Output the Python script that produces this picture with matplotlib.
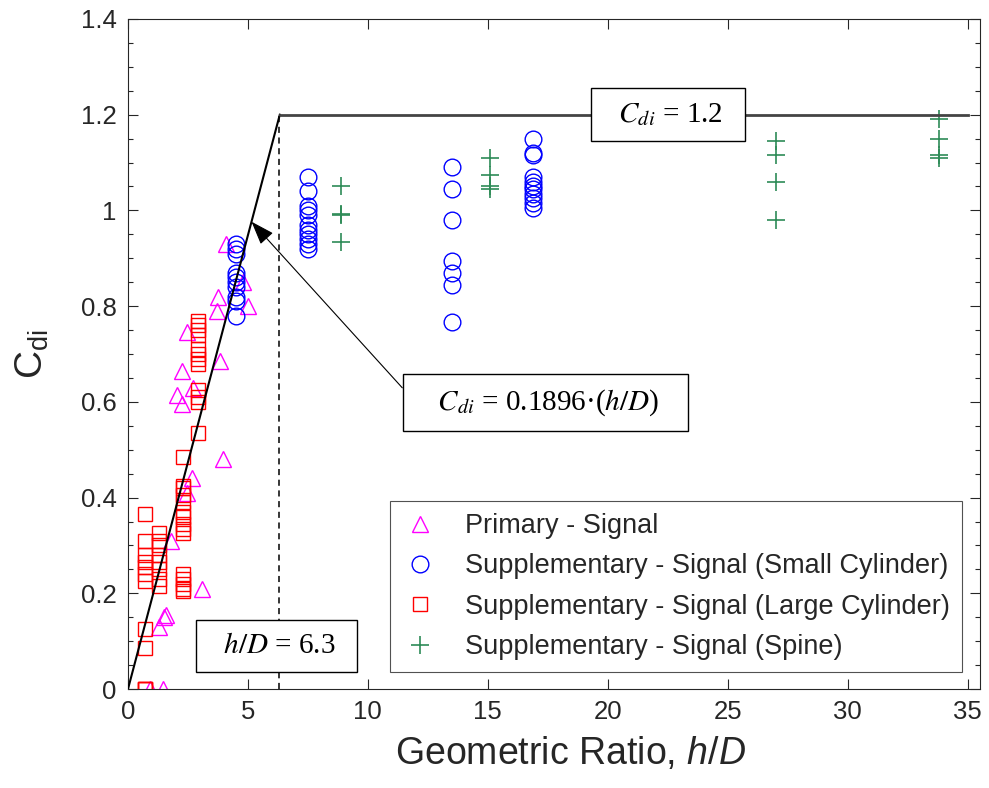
import matplotlib
matplotlib.use("Agg")
import matplotlib.pyplot as plt
import numpy as np
from matplotlib.ticker import MultipleLocator

plt.rcParams['font.family'] = ['Liberation Sans', 'DejaVu Sans']
plt.rcParams['mathtext.fontset'] = 'custom'
plt.rcParams['mathtext.rm'] = 'Liberation Sans'
plt.rcParams['mathtext.it'] = 'Liberation Sans:italic'

# Primary - Signal
prim_x = [4.1, 4.8, 3.75, 5.0, 3.7, 2.45, 3.85, 2.25, 2.7, 2.05, 2.25, 3.95,
          2.65, 2.45, 1.8, 3.1, 1.6, 1.5, 1.3, 1.45, 0.9]
prim_y = [0.93, 0.85, 0.82, 0.80, 0.79, 0.745, 0.685, 0.665, 0.63, 0.615, 0.595,
          0.48, 0.44, 0.41, 0.31, 0.21, 0.155, 0.15, 0.13, 0.0, 0.0]

# Supplementary - Small Cylinder
small_x = [4.5] * 10 + [7.5] * 11 + [13.5] * 7 + [16.9] * 11
small_y = [0.93, 0.92, 0.91, 0.87, 0.86, 0.85, 0.84, 0.82, 0.81, 0.78,
           1.07, 1.04, 1.01, 1.0, 0.99, 0.97, 0.96, 0.95, 0.94, 0.93, 0.92,
           1.09, 1.045, 0.98, 0.895, 0.87, 0.845, 0.767,
           1.15, 1.12, 1.115, 1.07, 1.06, 1.05, 1.045, 1.035, 1.025, 1.015, 1.005]

# Supplementary - Large Cylinder
large_x = ([2.9] * 12 + [2.3] * 10 + [2.3] * 5 + [0.7] * 12 + [1.3] * 8)
large_y = ([0.77, 0.76, 0.75, 0.74, 0.71, 0.70, 0.69, 0.68, 0.625, 0.61, 0.60, 0.535,
            0.485, 0.425, 0.42, 0.405, 0.39, 0.37, 0.36, 0.345, 0.335, 0.325,
            0.24, 0.23, 0.22, 0.21, 0.205,
            0.365, 0.31, 0.28, 0.265, 0.255, 0.24, 0.225, 0.125, 0.085, 0.0, 0.0, 0.0,
            0.325, 0.31, 0.30, 0.28, 0.265, 0.25, 0.23, 0.215])

# Supplementary - Spine
spine_x = [8.9] * 4 + [15.1] * 4 + [27.0] * 4 + [33.8] * 4
spine_y = [1.05, 0.99, 0.992, 0.935,
           1.11, 1.075, 1.05, 1.045,
           1.145, 1.115, 1.06, 0.98,
           1.19, 1.15, 1.115, 1.11]

x_ticks = [0, 5, 10, 15, 20, 25, 30, 35]
y_ticks = [0, 0.2, 0.4, 0.6, 0.8, 1.0, 1.2, 1.4]
y_tick_labels = ['0', '0.2', '0.4', '0.6', '0.8', '1', '1.2', '1.4']

slope = 0.1896
cap = 1.2
hd_limit = 6.3

fig = plt.figure(figsize=(9.89, 7.88), dpi=100)
ax = fig.add_axes([0.1294, 0.1256, 0.8610, 0.8503])

axis_col = '#262626'

# design curve: linear rise, plateau, and the h/D limit
x_knee = cap / slope
ax.plot([0, x_knee], [0, slope * x_knee], color='black', lw=1.5, zorder=3)
ax.plot([x_knee, 35], [cap, cap], color='#444444', lw=2.0, zorder=3)
ax.plot([hd_limit, hd_limit], [0, cap], color='black', lw=1.1, ls=(0, (4, 3)), zorder=3)

ms_common = dict(ls='none', mfc='none', mew=1.0)
ax.plot(prim_x, prim_y, marker='^', ms=12, mec='#FF00FF', label='Primary - Signal', **ms_common)
ax.plot(small_x, small_y, marker='o', ms=12, mec='#0000FF',
        label='Supplementary - Signal (Small Cylinder)', **ms_common)
ax.plot(large_x, large_y, marker='s', ms=9.5, mec='#FF0000',
        label='Supplementary - Signal (Large Cylinder)', **ms_common)
ax.plot(spine_x, spine_y, marker='+', ms=13, mec='#2E8B57', color='#2E8B57',
        label='Supplementary - Signal (Spine)', ls='none', mew=1.2)

ax.set_xlim(0, 35.5)
ax.set_ylim(0, 1.4)
ax.set_xticks(x_ticks)
ax.set_xticklabels([str(v) for v in x_ticks])
ax.set_yticks(y_ticks)
ax.set_yticklabels(y_tick_labels)
ax.yaxis.set_minor_locator(MultipleLocator(0.05))
ax.tick_params(which='both', direction='in', top=True, right=True, colors=axis_col,
               labelsize=18.5, width=0.8)
ax.tick_params(which='major', length=7, pad=8)
ax.tick_params(which='minor', length=3.5)
for s in ax.spines.values():
    s.set_color(axis_col)
    s.set_linewidth(0.8)

ax.set_xlabel('Geometric Ratio, $\\mathit{h/D}$', fontsize=27, color=axis_col)
ax.xaxis.set_label_coords(0.52, -0.068)
ax.set_ylabel('$\\mathregular{C_{di}}$', fontsize=28, color=axis_col)
ax.yaxis.set_label_coords(-0.09, 0.5)

serif = ['Liberation Serif', 'DejaVu Serif']
box = dict(boxstyle='square,pad=0.45', fc='white', ec='black', lw=1.0)

ax.text(22.5, cap, '  $C_{di}$ = 1.2  ', family=serif, math_fontfamily='stix',
        fontsize=21, ha='center', va='center', bbox=box, zorder=5)
ax.text(6.2, 0.09, '  $h/D$ = 6.3  ', family=serif, math_fontfamily='stix',
        fontsize=21, ha='center', va='center', bbox=box, zorder=5)

tip_x = 5.15
ax.annotate('   $C_{di}$ = 0.1896·($h/D$)   ', xy=(tip_x, slope * tip_x), xytext=(17.4, 0.598),
            family=serif, math_fontfamily='stix', fontsize=21, ha='center', va='center',
            bbox=box, zorder=5,
            arrowprops=dict(arrowstyle='-|>,head_length=0.7,head_width=0.25', color='black',
                            lw=0.8, relpos=(0, 0.5), shrinkA=0, shrinkB=0))

leg = ax.legend(loc='lower right', bbox_to_anchor=(0.979, 0.025), borderaxespad=0,
                fontsize=19.5, frameon=True, fancybox=False, edgecolor=axis_col,
                handletextpad=1.0, labelspacing=0.53, borderpad=0.45, handlelength=1.3)
leg.get_frame().set_linewidth(0.8)
for t in leg.get_texts():
    t.set_color(axis_col)

fig.savefig('out.png', dpi=100)
